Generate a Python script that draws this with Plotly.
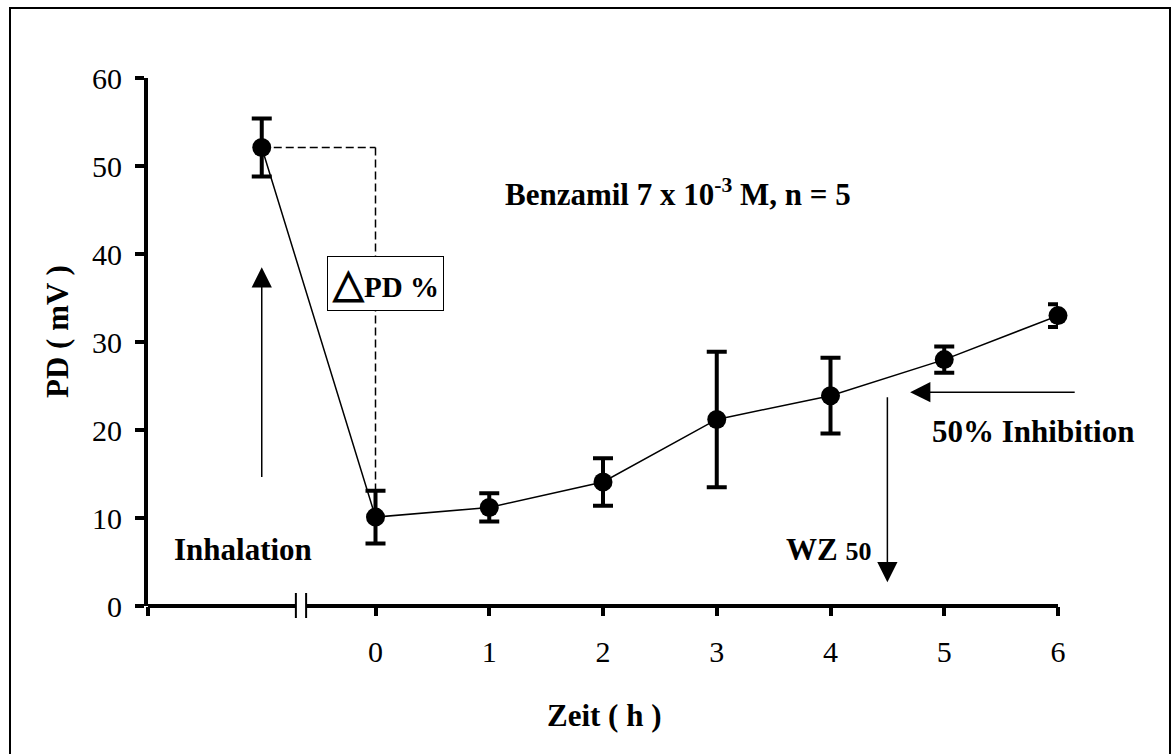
import plotly.graph_objects as go

# Nasal potential difference after benzamil inhalation (mean ± SEM, n = 5)
hours = [0, 1, 2, 3, 4, 5, 6]
pd_mean = [10.1, 11.2, 14.1, 21.2, 23.9, 28.0, 33.0]
pd_sem = [3.0, 1.6, 2.7, 7.7, 4.3, 1.5, 1.3]

# Value recorded at inhalation, shown left of the axis break
inhal_x = -1
inhal_mean = 52.1
inhal_sem = 3.3

# 50 % inhibition level and the time it is reached (WZ50)
pd_50 = 24.3
wz50_time = 4.5

x_ticks = [-2, 0, 1, 2, 3, 4, 5, 6]
x_tick_text = ["", "0", "1", "2", "3", "4", "5", "6"]
y_ticks = [0, 10, 20, 30, 40, 50, 60]

X_RANGE = [-2, 6]
Y_RANGE = [0, 60]
BREAK = [-0.70, -0.61]

W, H = 1174, 754
M = dict(l=148, r=116, t=78, b=148)
PW = W - M["l"] - M["r"]
PH = H - M["t"] - M["b"]

SERIF = "Times New Roman, Liberation Serif, serif"
BLACK = "#000000"


def xp(x):
    """data x -> paper x"""
    return (x - X_RANGE[0]) / (X_RANGE[1] - X_RANGE[0])


def px_x(p):
    """pixel x -> paper x"""
    return (p - M["l"]) / PW


def px_y(p):
    """pixel y -> paper y"""
    return (H - M["b"] - p) / PH


xs = [inhal_x] + hours
ys = [inhal_mean] + pd_mean
es = [inhal_sem] + pd_sem

fig = go.Figure()
fig.add_trace(go.Scatter(
    x=xs, y=ys, mode="lines+markers",
    line=dict(color=BLACK, width=1.5),
    marker=dict(color=BLACK, size=19),
    error_y=dict(type="data", array=es, visible=True,
                 thickness=4, width=10, color=BLACK),
    cliponaxis=False, showlegend=False,
))

shapes = []
# outer frame
shapes.append(dict(type="rect", xref="paper", yref="paper",
                   x0=px_x(10), x1=px_x(1170), y0=px_y(770), y1=px_y(8),
                   line=dict(color=BLACK, width=2), fillcolor="rgba(0,0,0,0)",
                   layer="below"))
# x axis with a break
for a, b in [(X_RANGE[0], BREAK[0]), (BREAK[1], X_RANGE[1])]:
    shapes.append(dict(type="line", xref="paper", yref="paper",
                       x0=xp(a), x1=xp(b), y0=0, y1=0,
                       line=dict(color=BLACK, width=4)))
for bx in BREAK:
    shapes.append(dict(type="line", xref="paper", yref="paper",
                       x0=xp(bx), x1=xp(bx), y0=px_y(593), y1=px_y(618),
                       line=dict(color=BLACK, width=2)))
# dashed guide for ΔPD
shapes.append(dict(type="line", xref="x", yref="y",
                   x0=inhal_x, x1=hours[0], y0=inhal_mean, y1=inhal_mean,
                   line=dict(color=BLACK, width=1.5, dash="8px,4px")))
shapes.append(dict(type="line", xref="x", yref="y",
                   x0=hours[0], x1=hours[0], y0=inhal_mean, y1=pd_mean[0],
                   line=dict(color=BLACK, width=1.5, dash="8px,4px")))

annotations = []


def arrow(x, y, ax, ay):
    annotations.append(dict(
        x=x, y=y, ax=ax, ay=ay, xref="x", yref="y", axref="x", ayref="y",
        text="", showarrow=True, arrowhead=2, arrowsize=2.7, arrowwidth=1.5,
        arrowcolor=BLACK, standoff=0, startstandoff=0))


arrow(inhal_x, 38.5, inhal_x, 14.5)          # inhalation
arrow(wz50_time, 2.7, wz50_time, 23.9)       # WZ50
arrow(4.70, pd_50, 6.16, pd_50)              # 50 % inhibition


def label(text, x, y, size=31, **kw):
    d = dict(x=x, y=y, xref="x", yref="y", text=text, showarrow=False,
             xanchor="center", yanchor="middle",
             font=dict(family=SERIF, size=size, color=BLACK))
    d.update(kw)
    annotations.append(d)


label("<b>Benzamil 7 x 10<sup>-3</sup> M, n = 5</b>", 2.66, 47.0)
label("<b>Inhalation</b>", -1.165, 6.4)
label("<b>WZ <span style='font-size:26px'>50</span></b>", 3.98, 6.4)
label("<b>50% Inhibition</b>", 5.78, 19.8)
label("<b><span style='font-size:40px'>△</span>PD %</b>", 0.088, 36.6,
      size=29, bgcolor="white", bordercolor=BLACK, borderwidth=1,
      borderpad=4)

# axis titles
annotations.append(dict(x=px_x(604), y=px_y(715), xref="paper", yref="paper",
                        xanchor="center", yanchor="middle",
                        text="<b>Zeit ( h )</b>", showarrow=False,
                        font=dict(family=SERIF, size=31, color=BLACK)))
annotations.append(dict(x=px_x(57), y=px_y(332), xref="paper", yref="paper",
                        xanchor="center", yanchor="middle",
                        text="<b>PD ( mV )</b>", showarrow=False, textangle=-90,
                        font=dict(family=SERIF, size=31, color=BLACK)))

fig.update_layout(
    width=W, height=H, margin=M,
    paper_bgcolor="white", plot_bgcolor="white",
    shapes=shapes, annotations=annotations, showlegend=False,
    xaxis=dict(range=X_RANGE, showgrid=False, zeroline=False, showline=False,
               tickmode="array", tickvals=x_ticks, ticktext=x_tick_text,
               ticks="outside", ticklen=9, tickwidth=4, tickcolor=BLACK,
               ticklabelstandoff=10,
               tickfont=dict(family=SERIF, size=30, color=BLACK)),
    yaxis=dict(range=Y_RANGE, showgrid=False, zeroline=False, showline=True,
               linewidth=4, linecolor=BLACK,
               tickmode="array", tickvals=y_ticks,
               ticks="outside", ticklen=9, tickwidth=4, tickcolor=BLACK,
               ticklabelstandoff=7,
               tickfont=dict(family=SERIF, size=30, color=BLACK)),
)

fig.write_html("out.html")
